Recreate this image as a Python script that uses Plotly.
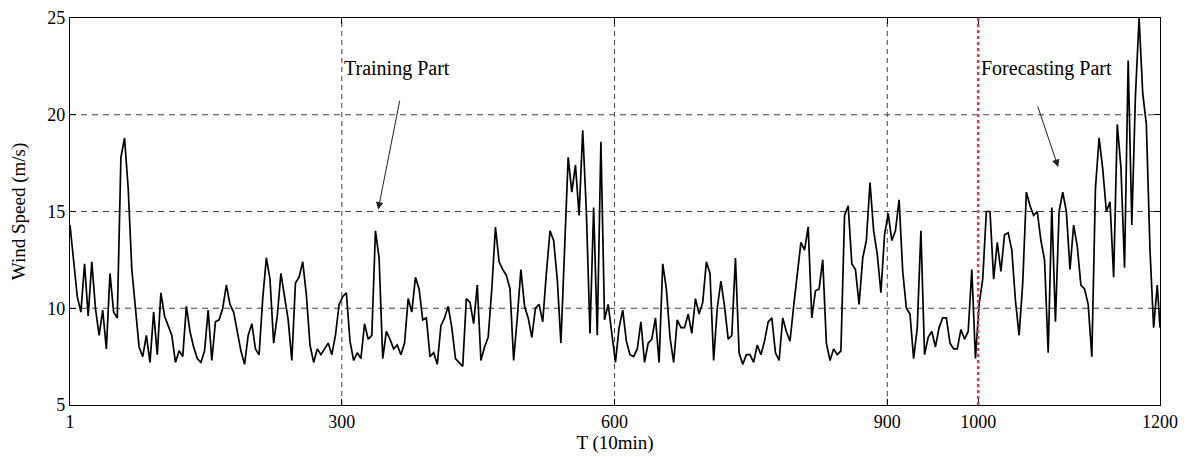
import plotly.graph_objects as go

# time index (10-min steps), sampled every 4 steps
t = list(range(1, 1198, 4)) + [1200]

# wind speed (m/s) - training part (t = 1 .. 997)
train_speed = [
    14.3, 12.5, 10.6, 9.8, 12.3, 9.6, 12.4, 10.0, 8.6, 9.9, 7.9, 11.8, 9.8, 9.5, 17.8, 18.8, 16.2, 12.0, 9.8, 8.0, 7.5, 8.6, 7.2, 9.8, 7.6,
    10.8, 9.6, 9.1, 8.6, 7.2, 7.8, 7.5, 10.1, 8.8, 8.0, 7.4, 7.2, 7.8, 9.9, 7.3, 9.3, 9.4, 10.0, 11.2, 10.2, 9.8, 8.8, 7.8, 7.1, 8.6,
    9.2, 7.9, 7.6, 10.5, 12.6, 11.5, 8.2, 9.6, 11.8, 10.7, 9.4, 7.3, 11.3, 11.6, 12.4, 10.7, 8.1, 7.2, 7.9, 7.6, 7.9, 8.2, 7.6, 8.6, 10.2,
    10.6, 10.8, 8.3, 7.3, 7.7, 7.4, 9.2, 8.4, 8.6, 14.0, 12.6, 7.4, 8.8, 8.4, 7.9, 8.1, 7.6, 8.2, 10.5, 9.8, 11.6, 11.0, 9.4, 9.5, 7.5,
    7.7, 7.1, 9.1, 9.5, 10.1, 9.0, 7.4, 7.2, 7.0, 10.5, 10.3, 9.2, 11.2, 7.3, 8.0, 8.5, 11.0, 14.2, 12.4, 12.0, 11.7, 11.0, 7.3, 9.5, 12.0,
    10.1, 9.5, 8.5, 10.0, 10.2, 9.3, 11.8, 14.0, 13.5, 11.5, 8.2, 12.6, 17.8, 16.0, 17.4, 14.8, 19.2, 15.0, 8.7, 15.2, 8.6, 18.6, 9.4, 10.2, 8.8,
    7.2, 9.0, 9.9, 8.3, 7.6, 7.5, 7.9, 9.3, 7.2, 8.2, 8.4, 9.5, 7.2, 12.3, 11.0, 8.5, 7.2, 9.4, 9.0, 9.0, 9.7, 8.7, 10.5, 9.7, 10.3,
    12.4, 11.8, 7.3, 10.0, 11.4, 10.1, 8.4, 8.6, 12.6, 7.7, 7.1, 7.6, 7.6, 7.2, 8.1, 7.6, 8.3, 9.3, 9.5, 7.7, 7.3, 9.5, 8.8, 8.3, 10.1,
    11.8, 13.4, 13.0, 14.2, 9.5, 10.9, 11.0, 12.5, 8.2, 7.3, 7.9, 7.6, 7.8, 14.8, 15.3, 12.3, 12.0, 10.2, 12.6, 13.5, 16.5, 14.0, 12.8, 10.8, 13.8,
    14.9, 13.5, 14.0, 15.6, 11.9, 10.0, 9.7, 7.4, 9.0, 14.0, 7.6, 8.5, 8.8, 8.0, 9.0, 9.5, 9.5, 8.2, 7.9, 7.9, 8.9, 8.4, 8.8, 12.0, 7.4,
]

# forecasting part (t = 1001 .. 1200)
forecast_speed = [
    10.2, 11.5, 15.0, 15.0, 11.5, 13.4, 11.9, 13.8, 13.9, 13.0, 10.4, 8.6, 11.3, 16.0, 15.3, 14.8, 15.0, 13.5, 12.5, 7.7, 15.2, 9.3, 15.0, 16.0, 15.0,
    12.0, 14.3, 13.2, 11.2, 11.0, 10.2, 7.5, 16.2, 18.8, 17.2, 15.0, 15.5, 11.6, 19.5, 17.3, 12.1, 22.8, 14.3, 21.0, 25.0, 21.1, 19.5, 13.0, 9.0, 11.2,
    9.0,
]

speed = train_speed + forecast_speed

x_ticks = [1, 300, 600, 900, 1000, 1200]
y_ticks = [5, 10, 15, 20, 25]
grid_x = [300, 600, 900]
grid_y = [10, 15, 20]
split_t = 1000

FONT = "Liberation Serif, Times New Roman, serif"

fig = go.Figure()
fig.add_trace(go.Scatter(x=t, y=speed, mode="lines",
                         line=dict(color="black", width=1.7),
                         showlegend=False, hoverinfo="x+y"))

shapes = []
for gx in grid_x:
    shapes.append(dict(type="line", xref="x", yref="paper", x0=gx, x1=gx, y0=0, y1=1,
                       line=dict(color="#444444", width=1, dash="5px,4px"), layer="below"))
for gy in grid_y:
    shapes.append(dict(type="line", xref="paper", yref="y", x0=0, x1=1, y0=gy, y1=gy,
                       line=dict(color="#444444", width=1, dash="6px,5px"), layer="below"))
shapes.append(dict(type="line", xref="x", yref="paper", x0=split_t, x1=split_t, y0=0, y1=1,
                   line=dict(color="#e2384f", width=2.5, dash="dot"), layer="above"))

annotations = [
    dict(x=361, y=22.4, xref="x", yref="y", text="Training Part", showarrow=False,
         font=dict(family=FONT, size=20, color="black")),
    dict(x=340, y=15.1, xref="x", yref="y", ax=364, ay=20.8, axref="x", ayref="y",
         text="", showarrow=True, arrowhead=2, arrowsize=1.5, arrowwidth=1, arrowcolor="#222222"),
    dict(x=1075, y=22.4, xref="x", yref="y", text="Forecasting Part", showarrow=False,
         font=dict(family=FONT, size=20, color="black")),
    dict(x=1088, y=17.3, xref="x", yref="y", ax=1065, ay=20.5, axref="x", ayref="y",
         text="", showarrow=True, arrowhead=2, arrowsize=1.5, arrowwidth=1, arrowcolor="#222222"),
]

# the page body adds an 8px offset, so the figure is sized to fit the 1188x457 window
fig.update_layout(
    width=1180, height=449,
    margin=dict(l=62, r=28, t=10, b=52),
    paper_bgcolor="white", plot_bgcolor="white",
    font=dict(family=FONT, size=18, color="black"),
    shapes=shapes, annotations=annotations,
    xaxis=dict(range=[1, 1200], tickvals=x_ticks, ticktext=[str(v) for v in x_ticks],
               automargin=False,
               showgrid=False, zeroline=False, showline=True, linecolor="black", linewidth=1.2,
               mirror="ticks", ticks="inside", ticklen=6, tickcolor="black",
               title=dict(text="T (10min)", font=dict(family=FONT, size=19), standoff=0),
               tickfont=dict(family=FONT, size=18)),
    yaxis=dict(range=[5, 25], tickvals=y_ticks, automargin=False,
               showgrid=False, zeroline=False, showline=True, linecolor="black", linewidth=1.2,
               mirror="ticks", ticks="inside", ticklen=6, tickcolor="black",
               title=dict(text="Wind Speed (m/s)", font=dict(family=FONT, size=19), standoff=16),
               tickfont=dict(family=FONT, size=18)),
)

fig.write_html("out.html")
